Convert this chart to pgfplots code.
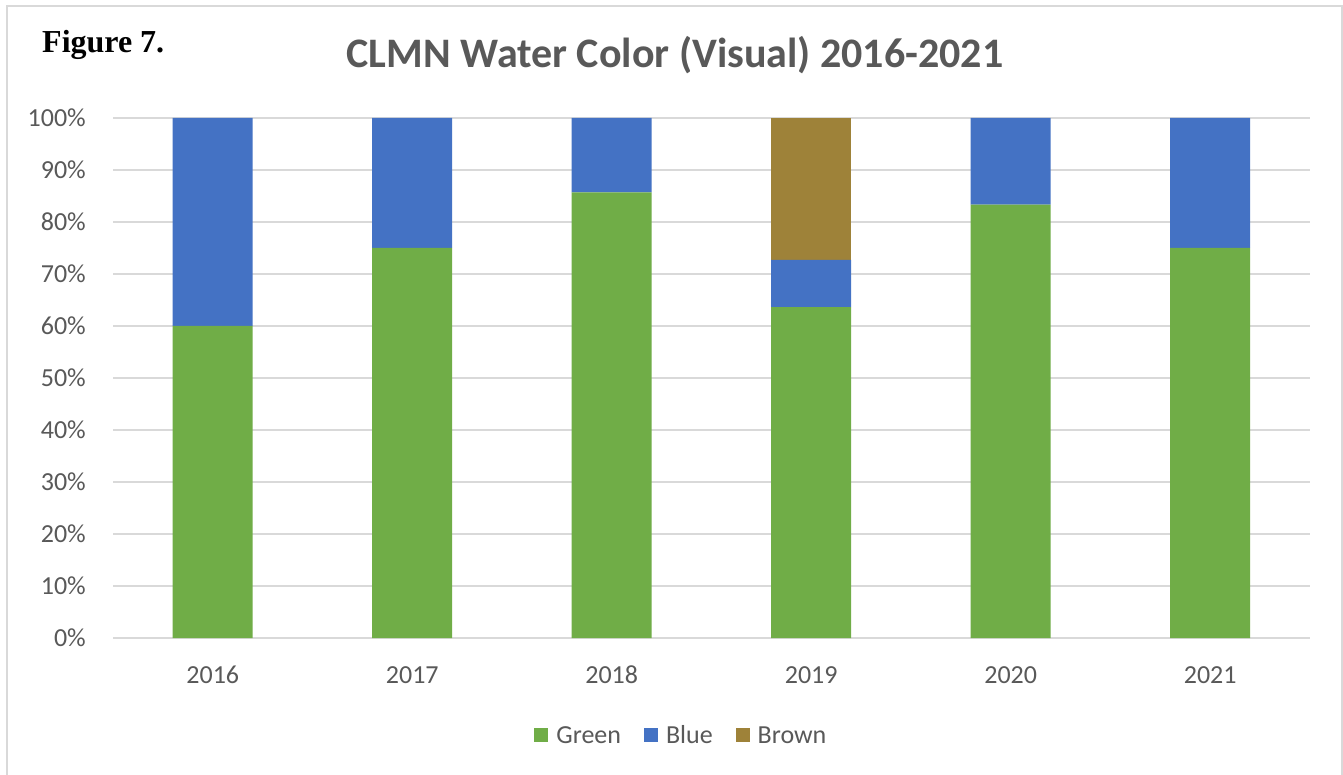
\documentclass[border=0pt]{standalone}
\usepackage{fontspec}
\setmainfont{Carlito}
\newfontfamily\serifb{Liberation Serif}
\usepackage{pgfplots}
\usepackage{pgfplotstable}
\pgfplotsset{compat=1.18}
\definecolor{cgreen}{HTML}{70AD47}
\definecolor{cblue}{HTML}{4472C4}
\definecolor{cbrown}{HTML}{9E8239}
\definecolor{ctext}{HTML}{595959}
\definecolor{cgrid}{HTML}{D9D9D9}
\pgfplotstableread{
x green blue brown
0 60.000 40.000 0
1 75.000 25.000 0
2 85.714 14.286 0
3 63.636 9.091 27.273
4 83.333 16.667 0
5 75.000 25.000 0
}\datatable
\begin{document}
\begin{tikzpicture}[x=1pt,y=1pt]
\fill[white] (0,0) rectangle (1343,774);
\draw[cgrid, line width=2pt] (7,-10) -- (7,768) -- (1342,768) -- (1342,-10);
\node[anchor=base west, inner sep=0pt, font=\serifb\bfseries\fontsize{32}{38}\selectfont] at (42,721) {Figure 7.};
\node[anchor=base, inner sep=0pt, text=ctext, font=\bfseries\fontsize{42}{50}\selectfont] at (675,706) {CLMN Water Color (Visual) 2016-2021};
\begin{axis}[
  at={(113pt,136pt)}, anchor=south west,
  scale only axis, width=1197pt, height=520pt,
  ybar stacked, bar width=80pt,
  xmin=-0.5, xmax=5.5, ymin=0, ymax=100,
  xtick={0,...,5}, xticklabels={2016,2017,2018,2019,2020,2021},
  ytick={0,10,...,100},
  yticklabel={\pgfmathparse{int(round(\tick))}\pgfmathresult\%},
  axis line style={draw=none},
  major tick length=0pt,
  ymajorgrids, grid style={cgrid, line width=2pt},
  tick label style={text=ctext, font=\fontsize{26}{31}\selectfont},
  yticklabel style={anchor=east, inner sep=0pt, xshift=-27pt},
  xticklabel style={anchor=north, inner sep=0pt, yshift=-28pt},
  legend columns=3,
  legend style={at={(axis description cs:0.474,-0.1865)}, anchor=center, draw=none, fill=none,
    font=\fontsize{26}{31}\selectfont, text=ctext,
    /tikz/every odd column/.append style={column sep=8pt},
    /tikz/every even column/.append style={column sep=23pt},
    nodes={inner sep=0pt, text height=16.8pt, text depth=0pt}},
  legend image code/.code={\fill[#1, draw=none] (0pt,-7pt) rectangle (14pt,7pt);},
]
\addplot[fill=cgreen, draw=none] table[x=x, y=green] {\datatable};
\addplot[fill=cblue, draw=none] table[x=x, y=blue] {\datatable};
\addplot[fill=cbrown, draw=none] table[x=x, y=brown] {\datatable};
\legend{Green, Blue, Brown}
\end{axis}
\pgfresetboundingbox
\path (0,0) rectangle (1343,774);
\end{tikzpicture}
\end{document}
